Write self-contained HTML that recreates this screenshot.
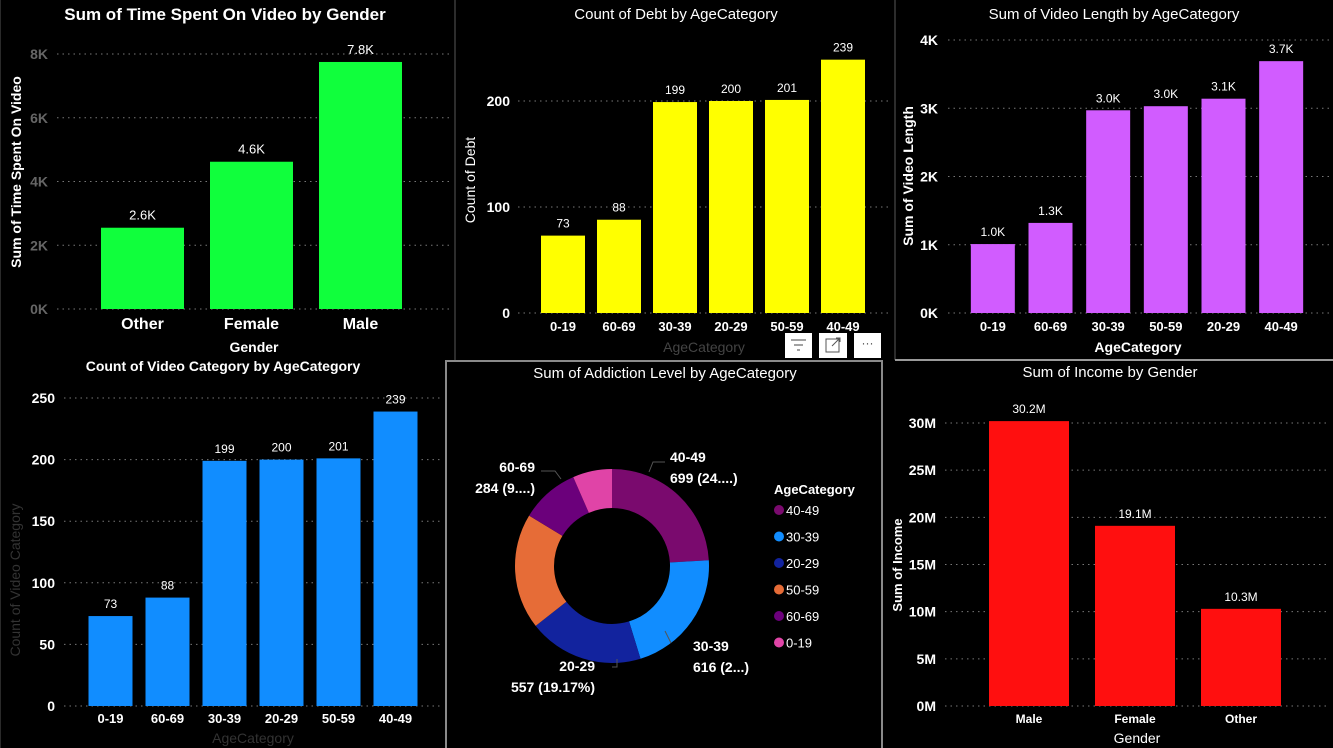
<!DOCTYPE html>
<html><head><meta charset="utf-8">
<style>
html,body{margin:0;padding:0;background:#000;}
svg{display:block;font-family:"Liberation Sans",sans-serif;}
</style></head>
<body>
<svg id="root" width="1333" height="748" viewBox="0 0 1333 748">
<rect x="0" y="0" width="1333" height="748" fill="#000"/>
<!-- panel borders -->
<line x1="455" y1="0" x2="455" y2="360" stroke="#3a3a3a" stroke-width="1.5"/>
<line x1="895" y1="0" x2="895" y2="360" stroke="#3a3a3a" stroke-width="1.5"/>
<line x1="895" y1="360" x2="1333" y2="360" stroke="#9a9a9a" stroke-width="2"/>
<line x1="0" y1="0" x2="0" y2="748" stroke="#2a2a2a" stroke-width="2"/>
<rect x="446" y="361" width="436" height="392" fill="none" stroke="#8a8a8a" stroke-width="2"/>
<!-- visual header icons -->
<g><rect x="785" y="333" width="27" height="25" fill="#fff"/><path d="M791 340h15M794 345h9M797 350h3" stroke="#444" stroke-width="1"/></g>
<g><rect x="819" y="333" width="28" height="25" fill="#fff"/><rect x="826" y="339" width="13" height="13" fill="none" stroke="#555"/><path d="M832 346l8-8M836 338h4v4" stroke="#555" fill="none"/></g>
<g><rect x="854" y="333" width="27" height="25" fill="#fff"/><text x="867.5" y="347" fill="#444" font-size="12" text-anchor="middle">···</text></g>
</svg>
<script>
// Chart 1: Sum of Time Spent On Video by Gender
const c1Cats = ["Other","Female","Male"];
const c1Vals = [2.55, 4.62, 7.75];
const c1Labels = ["2.6K","4.6K","7.8K"];
const c1Ticks = [0,2,4,6,8];
const c1TickLabels = ["0K","2K","4K","6K","8K"];
// Chart 2: Count of Debt by AgeCategory
const c2Cats = ["0-19","60-69","30-39","20-29","50-59","40-49"];
const c2Vals = [73, 88, 199, 200, 201, 239];
const c2Labels = ["73","88","199","200","201","239"];
const c2Ticks = [0,100,200];
const c2TickLabels = ["0","100","200"];
// Chart 3: Sum of Video Length by AgeCategory
const c3Cats = ["0-19","60-69","30-39","50-59","20-29","40-49"];
const c3Vals = [1.01, 1.32, 2.97, 3.03, 3.14, 3.69];
const c3Labels = ["1.0K","1.3K","3.0K","3.0K","3.1K","3.7K"];
const c3Ticks = [0,1,2,3,4];
const c3TickLabels = ["0K","1K","2K","3K","4K"];
// Chart 4: Count of Video Category by AgeCategory
const c4Cats = ["0-19","60-69","30-39","20-29","50-59","40-49"];
const c4Vals = [73, 88, 199, 200, 201, 239];
const c4Labels = ["73","88","199","200","201","239"];
const c4Ticks = [0,50,100,150,200,250];
const c4TickLabels = ["0","50","100","150","200","250"];
// Chart 5: Sum of Addiction Level by AgeCategory (donut)
const c5Cats = ["40-49","30-39","20-29","50-59","60-69","0-19"];
const c5Vals = [699, 616, 557, 560, 284, 190];
const c5Colors = ["#7a0a6e","#118dff","#12239e","#e66c37","#6b007b","#e044a7"];
// Chart 6: Sum of Income by Gender
const c6Cats = ["Male","Female","Other"];
const c6Vals = [30.2, 19.1, 10.3];
const c6Labels = ["30.2M","19.1M","10.3M"];
const c6Ticks = [0,5,10,15,20,25,30];
const c6TickLabels = ["0M","5M","10M","15M","20M","25M","30M"];

const NS = "http://www.w3.org/2000/svg";
const root = document.getElementById("root");
function mk(tag, attrs, parent, text){
  const e = document.createElementNS(NS, tag);
  for (const k in attrs) e.setAttribute(k, attrs[k]);
  if (text !== undefined) e.textContent = text;
  (parent||root).appendChild(e);
  return e;
}

function barChart(o){
  const g = mk("g", {});
  
  
  const maxT = o.ticks[o.ticks.length-1];
  const y = v => o.y0 - (v / maxT) * (o.y0 - o.yTop);
  const n = o.cats.length;
  const step = (o.plotR - o.plotL) / n;
  const x = i => o.plotL + step * i + (step - o.barW) / 2;
  const t = mk("text", {x:o.titleX, y:o.titleY, fill:"#fff", "font-size":o.titleSize||16, "font-weight":o.titleBold?"bold":"normal", "text-anchor":"middle"}, g, o.title);
  
  
  o.ticks.forEach((tv, i) => {
    const gl = mk("line", {x1:o.gridL, x2:o.gridR, y1:y(tv), y2:y(tv), stroke:"#777", "stroke-width":1, "stroke-dasharray":"1.5 4"}, g);
    
    
    const tl = mk("text", {x:o.tickX, y:y(tv)+5, fill:o.tickColor||"#fff", "font-size":14, "font-weight":"bold", "text-anchor":"end"}, g, o.tickLabels[i]);
    
    
  });
  o.cats.forEach((c, i) => {
    const b = mk("rect", {x:x(i), y:y(o.vals[i]), width:o.barW, height:o.y0 - y(o.vals[i]), fill:o.color}, g);
    
    
    const dl = mk("text", {x:x(i)+o.barW/2, y:y(o.vals[i])-8, fill:"#fff", "font-size":o.valSize||12, "text-anchor":"middle"}, g, o.labels[i]);
    
    
    const xl = mk("text", {x:x(i)+o.barW/2, y:o.xLabelY, fill:"#fff", "font-size":o.xLabelSize||13, "font-weight":"bold", "text-anchor":"middle"}, g, c);
    
    
  });
  const xt = mk("text", {x:o.xTitleX, y:o.xTitleY, fill:o.xTitleColor, "font-size":14, "font-weight":o.xTitleBold?"bold":"normal", "text-anchor":"middle"}, g, o.xTitle);
  
  
  const yt = mk("text", {x:0, y:0, transform:"translate("+o.yTitleX+","+o.yTitleY+") rotate(-90)", fill:o.yTitleColor, "font-size":o.yTitleSize||14, "font-weight":o.yTitleBold?"bold":"normal", "text-anchor":"middle"}, g, o.yTitle);
  
  
}

barChart({name:"time-spent-chart", cats:c1Cats, vals:c1Vals, labels:c1Labels, ticks:c1Ticks, tickLabels:c1TickLabels,
  y0:309, yTop:54, plotL:88, plotR:415, barW:83, gridL:57, gridR:450, tickX:48, tickColor:"#666",
  color:"#10ff3c", title:"Sum of Time Spent On Video by Gender", titleX:225, titleY:20, titleBold:true, titleSize:17,
  xLabelY:329, xLabelSize:16, xTitle:"Gender", xTitleX:254, xTitleY:352, xTitleColor:"#fff", xTitleBold:true,
  yTitle:"Sum of Time Spent On Video", yTitleX:21, yTitleY:172, yTitleColor:"#fff", yTitleBold:true, valSize:13});
barChart({name:"debt-chart", cats:c2Cats, vals:c2Vals, labels:c2Labels, ticks:c2Ticks, tickLabels:c2TickLabels,
  y0:313, yTop:101, plotL:535, plotR:871, barW:44, gridL:518, gridR:890, tickX:510,
  color:"#ffff00", title:"Count of Debt by AgeCategory", titleX:676, titleY:19, titleSize:15,
  xLabelY:331, xTitle:"AgeCategory", xTitleX:704, xTitleY:352, xTitleColor:"#444",
  yTitle:"Count of Debt", yTitleX:475, yTitleY:180, yTitleColor:"#fff"});
barChart({name:"video-length-chart", cats:c3Cats, vals:c3Vals, labels:c3Labels, ticks:c3Ticks, tickLabels:c3TickLabels,
  y0:313, yTop:40, plotL:964, plotR:1310, barW:44, gridL:948, gridR:1330, tickX:938,
  color:"#d15cff", title:"Sum of Video Length by AgeCategory", titleX:1114, titleY:19, titleSize:15,
  xLabelY:331, xTitle:"AgeCategory", xTitleX:1138, xTitleY:352, xTitleColor:"#fff", xTitleBold:true,
  yTitle:"Sum of Video Length", yTitleX:913, yTitleY:176, yTitleColor:"#fff", yTitleBold:true});
barChart({name:"video-category-chart", cats:c4Cats, vals:c4Vals, labels:c4Labels, ticks:c4Ticks, tickLabels:c4TickLabels,
  y0:706, yTop:398, plotL:82, plotR:424, barW:44, gridL:64, gridR:442, tickX:55,
  color:"#118dff", title:"Count of Video Category by AgeCategory", titleX:223, titleY:371, titleBold:true, titleSize:14,
  xLabelY:723, xTitle:"AgeCategory", xTitleX:253, xTitleY:743, xTitleColor:"#333",
  yTitle:"Count of Video Category", yTitleX:20, yTitleY:580, yTitleColor:"#333", valSize:12});
barChart({name:"income-chart", cats:c6Cats, vals:c6Vals, labels:c6Labels, ticks:c6Ticks, tickLabels:c6TickLabels,
  y0:706, yTop:423, plotL:976, plotR:1294, barW:80, gridL:945, gridR:1330, tickX:936,
  color:"#ff0f0f", title:"Sum of Income by Gender", titleX:1110, titleY:377, titleSize:15,
  xLabelY:723, xLabelSize:12, xTitle:"Gender", xTitleX:1137, xTitleY:743, xTitleColor:"#fff",
  yTitle:"Sum of Income", yTitleX:902, yTitleY:565, yTitleColor:"#fff", yTitleBold:true, yTitleSize:13});

// Donut
(function(){
  const g = mk("g", {});
  
  
  const t = mk("text", {x:665, y:378, fill:"#fff", "font-size":15, "text-anchor":"middle"}, g, "Sum of Addiction Level by AgeCategory");
  
  
  const cx = 612, cy = 566, R = 97, r = 58;
  const total = c5Vals.reduce((a,b)=>a+b,0);
  let a0 = 0;
  c5Vals.forEach((v, i) => {
    const a1 = a0 + v/total*2*Math.PI;
    const p = (a, rad) => [cx + rad*Math.sin(a), cy - rad*Math.cos(a)];
    const [x0,y0] = p(a0,R), [x1,y1] = p(a1,R), [x2,y2] = p(a1,r), [x3,y3] = p(a0,r);
    const large = (a1-a0) > Math.PI ? 1 : 0;
    const s = mk("path", {d:`M${x0} ${y0}A${R} ${R} 0 ${large} 1 ${x1} ${y1}L${x2} ${y2}A${r} ${r} 0 ${large} 0 ${x3} ${y3}Z`, fill:c5Colors[i]}, g);
    
    
    a0 = a1;
  });
  const lbls = [
    {x:670,y:462,l1:"40-49",l2:"699 (24....)",a:"start"},
    {x:693,y:651,l1:"30-39",l2:"616 (2...)",a:"start"},
    {x:595,y:671,l1:"20-29",l2:"557 (19.17%)",a:"end"},
    {x:535,y:472,l1:"60-69",l2:"284 (9....)",a:"end"}
  ];
  lbls.forEach(o => {
    const e = mk("text", {x:o.x, y:o.y, fill:"#fff", "font-size":14, "font-weight":"bold", "text-anchor":o.a}, g, o.l1);
    
    
    const e2 = mk("text", {x:o.x+(o.a==="end"&&o.l1==="20-29"?0:0), y:o.y+21, fill:"#fff", "font-size":14, "font-weight":"bold", "text-anchor":o.a}, g, o.l2);
    
    
  });
  mk("path", {d:"M649 472l4-10h12M671 643l-6 -12M612 667h5v-8M561 479l-6-8h-14", stroke:"#555", fill:"none"}, g);
  const lt = mk("text", {x:774, y:494, fill:"#fff", "font-size":13, "font-weight":"bold"}, g, "AgeCategory");
  
  
  c5Cats.forEach((c, i) => {
    const ly = 510 + i*26.5;
    const le = mk("g", {}, g);
    
    
    mk("circle", {cx:779, cy:ly, r:5, fill:c5Colors[i]}, le);
    mk("text", {x:786, y:ly+5, fill:"#fff", "font-size":13}, le, c);
  });
})();
</script>
</body></html>
